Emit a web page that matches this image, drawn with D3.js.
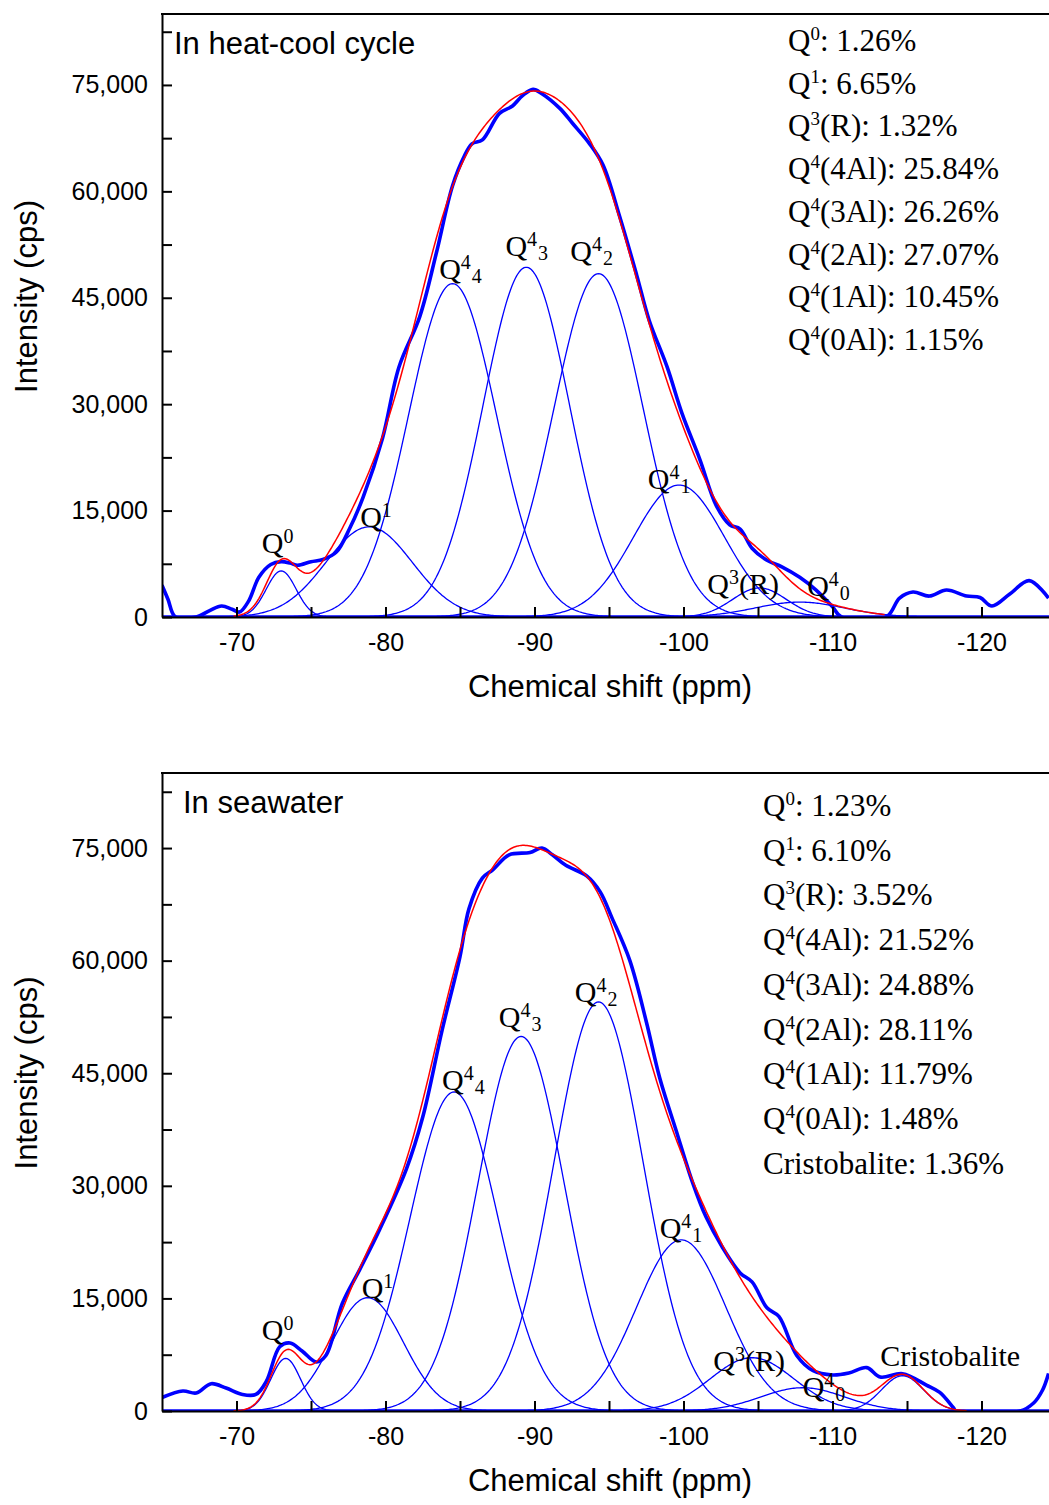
<!DOCTYPE html>
<html>
<head>
<meta charset="utf-8">
<script src="https://cdn.jsdelivr.net/npm/d3@7"></script>
<style>
  body { margin: 0; background: #fff; }
  svg { display: block; }
</style>
</head>
<body>
<div id="chart"></div>
<script>
// ---------- data: peak-fit components (center ppm, height cps, sigma ppm) ----------
const heatPeakNames   = ["Q0", "Q1", "Q3R", "Q44", "Q43", "Q42", "Q41", "Q40"];
const heatPeakCenters = [-73.0, -78.9, -105.1, -84.5, -89.45, -94.3, -99.7, -107.8];
const heatPeakHeights = [6500, 12700, 4100, 47000, 49300, 48400, 18600, 2100];
const heatPeakSigmas  = [1.0, 2.9, 1.8, 2.95, 2.9, 3.0, 3.05, 3.0];
const heatFitRange    = [-69.8, -113.5];

const seaPeakNames   = ["Q0", "Q1", "Q3R", "Q44", "Q43", "Q42", "Q41", "Q40", "Cristobalite"];
const seaPeakCenters = [-73.3, -78.8, -104.6, -84.6, -89.1, -94.3, -99.85, -108.0, -114.7];
const seaPeakHeights = [7000, 15100, 7100, 42500, 49900, 54500, 22800, 3100, 4700];
const seaPeakSigmas  = [1.0, 2.4, 2.8, 2.95, 2.9, 3.0, 3.0, 2.8, 1.4];
const seaFitRange    = [-69.8, -119.0];

// measured spectra [ppm, cps]
const heatSpectrum = [
  [-65.0, 4500], [-65.4, 2500], [-65.9, 0], [-67.3, 0], [-68.2, 900], [-69.0, 1550],
  [-69.7, 1100], [-70.2, 700], [-70.8, 2200], [-71.5, 5600], [-72.3, 7400], [-73.0, 7800],
  [-73.6, 7600], [-74.1, 7300], [-75.0, 7800], [-75.8, 8100], [-76.7, 9150], [-77.6, 12500],
  [-78.5, 16900], [-79.8, 25200], [-80.9, 35200], [-82.3, 42350], [-83.4, 51200], [-84.5, 60800],
  [-85.3, 65000], [-85.8, 66700], [-86.5, 67250], [-87.65, 71000], [-88.5, 72000], [-89.2, 73500],
  [-89.9, 74370], [-90.5, 73770], [-91.7, 71700], [-92.55, 69600], [-93.7, 66700], [-94.6, 63700],
  [-95.7, 56560], [-96.85, 48260], [-97.7, 41800], [-98.9, 35250], [-99.9, 28700], [-101.1, 22200],
  [-102.2, 15700], [-103.1, 13000], [-103.8, 12400], [-104.6, 9700], [-105.6, 8000], [-106.6, 7080],
  [-107.8, 5600], [-108.9, 3800], [-110.0, 1450], [-110.6, 0], [-113.6, 0], [-114.5, 2670],
  [-115.4, 3520], [-116.5, 2950], [-117.65, 3800], [-119.0, 2950], [-119.9, 2750], [-120.7, 1550],
  [-121.9, 3240], [-123.2, 5130], [-124.5, 2670]
];

const seaSpectrum = [
  [-65.0, 1790], [-66.4, 2660], [-67.3, 2400], [-68.3, 3640], [-69.3, 3060], [-70.4, 2200],
  [-71.3, 2200], [-72.0, 3930], [-72.9, 8550], [-73.6, 9060], [-74.4, 7990], [-75.35, 6530],
  [-76.0, 7390], [-77.1, 14320], [-78.3, 18950], [-79.6, 24150], [-81.4, 32230], [-82.5, 39160],
  [-83.8, 50750], [-85.0, 60540], [-85.6, 66900], [-86.5, 71000], [-87.2, 72100], [-88.3, 74100],
  [-89.7, 74400], [-90.5, 75000], [-91.2, 74100], [-92.1, 72700], [-93.5, 71300], [-94.4, 69200],
  [-95.2, 65700], [-96.4, 60000], [-97.5, 51900], [-98.4, 44400], [-99.5, 37400], [-100.6, 30500],
  [-101.5, 25900], [-102.6, 21850], [-103.8, 18400], [-104.6, 17200], [-105.6, 13750], [-106.4, 12600],
  [-107.6, 7400], [-108.7, 5370], [-110.0, 4800], [-111.1, 5060], [-112.3, 5780], [-113.2, 4530],
  [-114.7, 4970], [-116.3, 3460], [-117.2, 2480], [-118.1, 470], [-118.3, 0], [-122.6, 0],
  [-123.5, 1070], [-124.1, 2800], [-124.5, 5000]
];

// peak labels: [ppm, cps, main, sup, sub, tail]
const heatPeakLabels = [
  [-71.7, 9000, "Q", "0", ""], [-78.3, 12700, "Q", "1", ""], [-83.6, 47700, "Q", "4", "4"],
  [-88.05, 50900, "Q", "4", "3"], [-92.4, 50200, "Q", "4", "2"], [-97.6, 18100, "Q", "4", "1"],
  [-101.6, 3240, "Q", "3", "", "(R)"], [-108.3, 2950, "Q", "4", "0"]
];
const seaPeakLabels = [
  [-71.7, 9400, "Q", "0", ""], [-78.4, 15000, "Q", "1", ""], [-83.8, 42800, "Q", "4", "4"],
  [-87.6, 51200, "Q", "4", "3"], [-92.7, 54500, "Q", "4", "2"], [-98.4, 23000, "Q", "4", "1"],
  [-102.0, 5300, "Q", "3", "", "(R)"], [-108.0, 1800, "Q", "4", "0"],
  [-113.2, 6000, "Cristobalite", "", ""]
];

// legend shares
const heatLegendNames  = [["Q","0",""], ["Q","1",""], ["Q","3","(R)"], ["Q","4","(4Al)"], ["Q","4","(3Al)"], ["Q","4","(2Al)"], ["Q","4","(1Al)"], ["Q","4","(0Al)"]];
const heatLegendShares = ["1.26%", "6.65%", "1.32%", "25.84%", "26.26%", "27.07%", "10.45%", "1.15%"];
const seaLegendNames   = [["Q","0",""], ["Q","1",""], ["Q","3","(R)"], ["Q","4","(4Al)"], ["Q","4","(3Al)"], ["Q","4","(2Al)"], ["Q","4","(1Al)"], ["Q","4","(0Al)"], ["Cristobalite","",""]];
const seaLegendShares  = ["1.23%", "6.10%", "3.52%", "21.52%", "24.88%", "28.11%", "11.79%", "1.48%", "1.36%"];

const xTickValues = [-70, -80, -90, -100, -110, -120];
const yTickValues = [0, 15000, 30000, 45000, 60000, 75000];

// ---------- setup ----------
const width = 1049, height = 1505;
const sans = "'Liberation Sans', Arial, sans-serif";
const serif = "'Liberation Serif', 'Times New Roman', serif";

const svg = d3.select("#chart").append("svg")
  .attr("width", width)
  .attr("height", height);

const x = d3.scaleLinear().domain([-65, -125]).range([162, 1056]);
const grid = d3.range(-65, -125.001, -0.1);

const gauss = (v, c, h, s) => h * Math.exp(-((v - c) ** 2) / (2 * s * s));

const drawPanel = (p) => {
  const y = d3.scaleLinear().domain([0, 85000]).range([p.bottom, p.top]);
  const g = svg.append("g");

  const clipId = "clip-" + p.id;
  svg.append("clipPath").attr("id", clipId)
    .append("rect")
    .attr("x", x(-65)).attr("y", p.top)
    .attr("width", x(-125) - x(-65)).attr("height", p.bottom - p.top);

  const plot = g.append("g").attr("clip-path", `url(#${clipId})`);

  // measured spectrum (thick blue)
  plot.append("path")
    .datum(p.spectrum)
    .attr("fill", "none")
    .attr("stroke", "#0000ff")
    .attr("stroke-width", 3.6)
    .attr("stroke-linejoin", "round")
    .attr("d", d3.line()
      .x(d => x(d[0]))
      .y(d => y(Math.max(0, d[1])))
      .curve(d3.curveCatmullRom.alpha(0.5)));

  // baseline
  plot.append("path")
    .datum(x.domain().map(v => [v, 0]))
    .attr("fill", "none")
    .attr("stroke", "#0000ff")
    .attr("stroke-width", 3.4)
    .attr("d", d3.line().x(d => x(d[0])).y(d => y(d[1])));

  // components
  const comps = p.centers.map((c, i) => grid.map(v => [v, gauss(v, c, p.heights[i], p.sigmas[i])]));
  plot.selectAll(".comp")
    .data(comps)
    .join("path")
    .attr("class", "comp")
    .attr("fill", "none")
    .attr("stroke", "#0000ff")
    .attr("stroke-width", 1.3)
    .attr("d", d3.line().x(d => x(d[0])).y(d => y(d[1])));

  // cumulative fit (red)
  const fit = grid
    .filter(v => v <= p.fitRange[0] && v >= p.fitRange[1])
    .map(v => [v, d3.sum(p.centers, (c, i) => gauss(v, c, p.heights[i], p.sigmas[i]))]);
  plot.append("path")
    .datum(fit)
    .attr("fill", "none")
    .attr("stroke", "#ff0000")
    .attr("stroke-width", 1.5)
    .attr("d", d3.line().x(d => x(d[0])).y(d => y(d[1])));

  // axes
  const xAxis = d3.axisBottom(x)
    .tickValues(d3.range(-70, -125.1, -5))
    .tickFormat(d => xTickValues.includes(d) ? d : "")
    .tickSize(-10)
    .tickSizeOuter(0)
    .tickPadding(16);
  g.append("g")
    .attr("transform", `translate(0,${p.bottom})`)
    .call(xAxis)
    .call(a => a.select(".domain").attr("stroke-width", 2))
    .call(a => a.selectAll(".tick line").attr("stroke-width", 2))
    .call(a => a.selectAll("text").attr("font-family", sans).attr("font-size", 25).attr("fill", "#000"));

  const yAxis = d3.axisLeft(y)
    .tickValues(d3.range(0, 85000, 7500))
    .tickFormat(d => yTickValues.includes(d) ? d3.format(",")(d) : "")
    .tickSize(-10)
    .tickSizeOuter(0)
    .tickPadding(14);
  g.append("g")
    .attr("transform", `translate(${x(-65)},0)`)
    .call(yAxis)
    .call(a => a.select(".domain").attr("stroke-width", 2))
    .call(a => a.selectAll(".tick line").attr("stroke-width", 2))
    .call(a => a.selectAll("text").attr("font-family", sans).attr("font-size", 25).attr("fill", "#000"));

  // top frame
  g.append("line")
    .attr("x1", x(-65) - 1).attr("x2", width)
    .attr("y1", p.top).attr("y2", p.top)
    .attr("stroke", "#000").attr("stroke-width", 2);

  // axis titles
  g.append("text")
    .attr("x", 610).attr("y", p.bottom + 80)
    .attr("text-anchor", "middle")
    .attr("font-family", sans).attr("font-size", 31)
    .text("Chemical shift (ppm)");

  g.append("text")
    .attr("transform", `translate(37,${(p.top + p.bottom) / 2 - 19}) rotate(-90)`)
    .attr("text-anchor", "middle")
    .attr("font-family", sans).attr("font-size", 31)
    .text("Intensity (cps)");

  // panel title
  g.append("text")
    .attr("x", p.titleX).attr("y", p.top + 40)
    .attr("font-family", sans).attr("font-size", 31)
    .text(p.title);

  // peak labels
  p.labels.forEach(l => {
    const t = g.append("text")
      .attr("x", x(l[0])).attr("y", y(l[1]))
      .attr("font-family", serif).attr("font-size", 30)
      .attr("fill", "#000");
    t.append("tspan").text(l[2]);
    if (l[3]) t.append("tspan").attr("font-size", 20).attr("dy", -10).text(l[3]);
    if (l[4]) t.append("tspan").attr("font-size", 20).attr("dy", 14).attr("dx", 1).text(l[4]);
    if (l[5]) t.append("tspan").attr("dy", 10).text(l[5]);
  });

  // legend
  p.legendNames.forEach((n, i) => {
    const t = g.append("text")
      .attr("x", p.legendX).attr("y", p.legendY + i * p.legendStep)
      .attr("font-family", serif).attr("font-size", 31)
      .attr("fill", "#000");
    t.append("tspan").text(n[0]);
    if (n[1]) t.append("tspan").attr("font-size", 19).attr("dy", -11).text(n[1]);
    t.append("tspan").attr("dy", n[1] ? 11 : 0).text(`${n[2]}: ${p.legendShares[i]}`);
  });
};

drawPanel({
  id: "heat", top: 14, bottom: 617,
  spectrum: heatSpectrum,
  centers: heatPeakCenters, heights: heatPeakHeights, sigmas: heatPeakSigmas,
  fitRange: heatFitRange,
  labels: heatPeakLabels,
  title: "In heat-cool cycle", titleX: 174,
  legendNames: heatLegendNames, legendShares: heatLegendShares,
  legendX: 788, legendY: 51, legendStep: 42.7
});

drawPanel({
  id: "sea", top: 773, bottom: 1411,
  spectrum: seaSpectrum,
  centers: seaPeakCenters, heights: seaPeakHeights, sigmas: seaPeakSigmas,
  fitRange: seaFitRange,
  labels: seaPeakLabels,
  title: "In seawater", titleX: 183,
  legendNames: seaLegendNames, legendShares: seaLegendShares,
  legendX: 763, legendY: 816, legendStep: 44.7
});
</script>
</body>
</html>
